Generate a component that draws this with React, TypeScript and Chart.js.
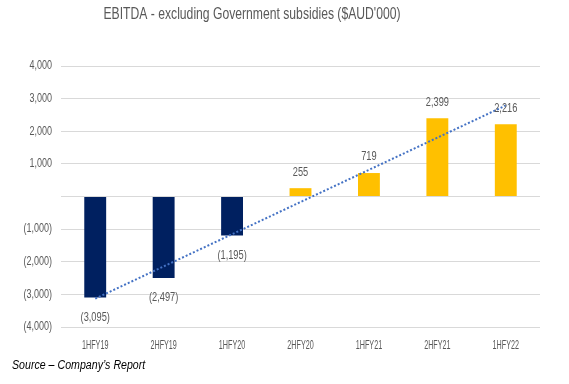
import React, { useEffect, useRef } from "react";
import { Chart, registerables } from "chart.js";

Chart.register(...registerables);

const categories = ["1HFY19", "2HFY19", "1HFY20", "2HFY20", "1HFY21", "2HFY21", "1HFY22"];
const ebitdaValues = [-3095, -2497, -1195, 255, 719, 2399, 2216];
// linear trend line end points
const trendValues = [-3130, null, null, null, null, null, 2790];
const yTicks = [-4000, -3000, -2000, -1000, 0, 1000, 2000, 3000, 4000];
const titleText = "EBITDA - excluding Government subsidies ($AUD'000)";
const sourceText = "Source – Company’s Report";

const NAVY = "#002060";
const GOLD = "#FFC000";
const GREY = "#595959";
const FONT = "'Liberation Sans', Arial, sans-serif";

function fmt(v: number): string {
  if (v === 0) return "";
  const s = Math.abs(v).toLocaleString("en-US");
  return v < 0 ? `(${s})` : s;
}

// draw text condensed horizontally (the reference uses a narrow font)
function drawText(
  ctx: CanvasRenderingContext2D,
  text: string,
  x: number,
  y: number,
  font: string,
  color: string,
  sx: number,
  align: CanvasTextAlign
) {
  ctx.save();
  ctx.font = font;
  ctx.fillStyle = color;
  ctx.textAlign = align;
  ctx.textBaseline = "middle";
  ctx.translate(x, y);
  ctx.scale(sx, 1);
  ctx.fillText(text, 0, 0);
  ctx.restore();
}

const textPlugin = {
  id: "textPlugin",
  afterDraw(chart: any) {
    const ctx = chart.ctx as CanvasRenderingContext2D;
    const xs = chart.scales.x;
    const ys = chart.scales.y;
    // title
    drawText(ctx, titleText, 252, 15, `16px ${FONT}`, GREY, 0.76, "center");
    // y tick labels
    yTicks.forEach((v) => {
      drawText(ctx, fmt(v), 52, ys.getPixelForValue(v), `12px ${FONT}`, GREY, 0.75, "right");
    });
    // x tick labels
    categories.forEach((c, i) => {
      drawText(ctx, c, xs.getPixelForTick(i), 346, `12px ${FONT}`, GREY, 0.6, "center");
    });
    // data labels
    const meta = chart.getDatasetMeta(0);
    meta.data.forEach((el: any, i: number) => {
      const v = ebitdaValues[i];
      const y = v < 0 ? el.y + 20 : el.y - 16;
      drawText(ctx, fmt(v), el.x, y, `12.5px ${FONT}`, GREY, 0.74, "center");
    });
    // source note
    drawText(ctx, sourceText, 12, 366, `italic 12.5px ${FONT}`, "#000", 0.85, "left");
  },
};

export default function App() {
  const ref = useRef<HTMLCanvasElement | null>(null);
  useEffect(() => {
    document.body.style.margin = "0";
    if (!ref.current) return;
    const chart = new Chart(ref.current, {
      type: "bar",
      data: {
        labels: categories,
        datasets: [
          {
            type: "bar",
            data: ebitdaValues,
            backgroundColor: (c: any) => ((c.raw as number) < 0 ? NAVY : GOLD),
            barPercentage: 0.32,
            categoryPercentage: 1,
            order: 1,
          },
          {
            type: "line",
            data: trendValues as any,
            borderColor: "#4472C4",
            borderWidth: 2,
            borderDash: [2, 2],
            pointRadius: 0,
            spanGaps: true,
            fill: false,
            order: 0,
          } as any,
        ],
      },
      plugins: [textPlugin],
      options: {
        responsive: false,
        animation: false,
        layout: { padding: { left: 0, right: 29, top: 66, bottom: 57 } },
        plugins: {
          legend: { display: false },
          tooltip: { enabled: false },
          title: { display: false },
        },
        scales: {
          x: {
            grid: { display: false, drawTicks: false },
            border: { display: false },
            ticks: { display: false },
            afterFit: (s: any) => {
              s.height = 0;
            },
          },
          y: {
            min: -4000,
            max: 4000,
            grid: { color: "#d9d9d9", drawTicks: false, lineWidth: 1 },
            border: { display: false },
            afterBuildTicks: (s: any) => {
              s.ticks = yTicks.map((v) => ({ value: v }));
            },
            afterFit: (s: any) => {
              s.width = 61;
            },
            ticks: { display: false },
          },
        },
      },
    });
    return () => chart.destroy();
  }, []);
  return (
    <div style={{ position: "relative", width: 569, height: 384, background: "#fff" }}>
      <canvas ref={ref} width={569} height={384} />
    </div>
  );
}
